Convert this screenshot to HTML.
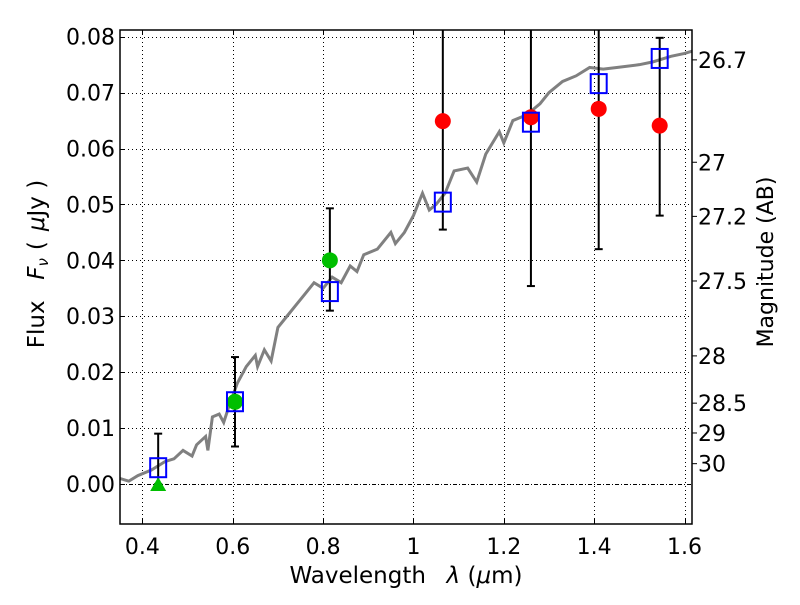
<!DOCTYPE html>
<html><head><meta charset="utf-8"><style>
body{margin:0;background:#fff}
svg text{font-family:"DejaVu Sans","Liberation Sans",sans-serif;fill:#000}
</style></head><body>
<svg id="chart" width="800" height="600" viewBox="0 0 800 600" xmlns="http://www.w3.org/2000/svg"></svg>
<script>
const xTicks=[0.4,0.6,0.8,1.0,1.2,1.4,1.6];
const xTickLabels=["0.4","0.6","0.8","1","1.2","1.4","1.6"];
const yTicks=[0,0.01,0.02,0.03,0.04,0.05,0.06,0.07,0.08];
const yTickLabels=["0.00","0.01","0.02","0.03","0.04","0.05","0.06","0.07","0.08"];
const magTicks=[26.7,27,27.2,27.5,28,28.5,29,30];
const magLabels=["26.7","27","27.2","27.5","28","28.5","29","30"];
const specX=[0.35,0.37,0.39,0.42,0.45,0.47,0.49,0.51,0.52,0.54,0.545,0.555,0.57,0.58,0.59,0.61,0.63,0.65,0.655,0.67,0.685,0.7,0.72,0.74,0.76,0.78,0.8,0.82,0.84,0.86,0.875,0.89,0.92,0.95,0.96,0.98,1.0,1.02,1.035,1.05,1.07,1.09,1.12,1.14,1.16,1.19,1.2,1.22,1.25,1.28,1.3,1.33,1.36,1.39,1.42,1.45,1.5,1.53,1.57,1.6,1.62];
const specY=[0.001,0.0005,0.0015,0.0025,0.004,0.0045,0.006,0.005,0.007,0.0085,0.006,0.012,0.0125,0.011,0.0135,0.018,0.021,0.023,0.021,0.024,0.022,0.028,0.030,0.032,0.034,0.036,0.035,0.037,0.036,0.039,0.038,0.041,0.042,0.045,0.043,0.045,0.048,0.052,0.049,0.050,0.052,0.056,0.0565,0.054,0.059,0.063,0.061,0.065,0.066,0.068,0.070,0.072,0.073,0.0745,0.0742,0.0745,0.075,0.0755,0.0765,0.077,0.0775];
const sqX=[0.435,0.605,0.815,1.065,1.26,1.41,1.545];
const sqY=[0.003,0.0148,0.0345,0.0505,0.0648,0.0717,0.0762];
const errLo=[0.0,0.0067,0.031,0.0455,0.0354,0.042,0.048];
const errHi=[0.009,0.0227,0.0493,0.1,0.1,0.1,0.0798];
const greenX=[0.605,0.815];
const greenY=[0.0147,0.040];
const triX=[0.435];
const triY=[0.0];
const redX=[1.065,1.26,1.41,1.545];
const redY=[0.0649,0.0656,0.0671,0.0641];

const L=120,R=692,T=30,B=524,xmin=0.3505,xmax=1.6165,ymin=-0.00716,ymax=0.0812;
const sx=v=>L+(v-xmin)/(xmax-xmin)*(R-L);
const sy=v=>B-(v-ymin)/(ymax-ymin)*(B-T);
const svg=document.getElementById('chart');
const NS='http://www.w3.org/2000/svg';
function mk(tag,attrs,parent){const e=document.createElementNS(NS,tag);for(const k in attrs)e.setAttribute(k,attrs[k]);(parent||svg).appendChild(e);return e;}
const defs=mk('clipPath',{id:'clip'});mk('rect',{x:L,y:T,width:R-L,height:B-T},defs);
const grid=mk('g',{});


xTicks.forEach((v,i)=>{
  const X=Math.round(sx(v))+0.5;
  mk('line',{x1:X,x2:X,y1:T,y2:B,stroke:'#000','stroke-width':1,'stroke-dasharray':'1,3'},grid);
  mk('line',{x1:X,x2:X,y1:B,y2:B-5,stroke:'#000'},grid);
  mk('line',{x1:X,x2:X,y1:T,y2:T+5,stroke:'#000'},grid);
  const t=mk('text',{x:sx(v),y:B+30,'text-anchor':'middle','font-size':22});
  t.textContent=xTickLabels[i];
  
  
});
yTicks.forEach((v,i)=>{
  const Y=Math.round(sy(v))+0.5;
  mk('line',{x1:L,x2:R,y1:Y,y2:Y,stroke:'#000','stroke-width':1,'stroke-dasharray':v===0?'4,2,1,2':'1,3'},grid);
  mk('line',{x1:L,x2:L+5,y1:Y,y2:Y,stroke:'#000'},grid);
  const t=mk('text',{x:L-5,y:sy(v)+8,'text-anchor':'end','font-size':22});
  t.textContent=yTickLabels[i];
  
  
});
magTicks.forEach((m,i)=>{
  const y=sy(Math.pow(10,(23.9-m)/2.5));
  mk('line',{x1:R,x2:R+5,y1:y,y2:y,stroke:'#000'});
  const t=mk('text',{x:R+6,y:y+8,'font-size':22});
  t.textContent=magLabels[i];
  
  
});
const plot=mk('g',{'clip-path':'url(#clip)'});


const sp=mk('polyline',{points:specX.map((x,i)=>sx(x)+','+sy(specY[i])).join(' '),fill:'none',stroke:'#808080','stroke-width':3},plot);


sqX.forEach((x,i)=>{
  const g=mk('g',{},plot);
  
  
  const X=sx(x),y1=sy(errLo[i]),y2=sy(errHi[i]);
  mk('line',{x1:X,x2:X,y1:y1,y2:y2,stroke:'#000','stroke-width':2},g);
  mk('line',{x1:X-4,x2:X+4,y1:y1,y2:y1,stroke:'#000','stroke-width':2},g);
  mk('line',{x1:X-4,x2:X+4,y1:y2,y2:y2,stroke:'#000','stroke-width':2},g);
});
redX.forEach((x,i)=>{
  const c=mk('circle',{cx:sx(x),cy:sy(redY[i]),r:8,fill:'#f00'},plot);
  
  
});
greenX.forEach((x,i)=>{
  const c=mk('circle',{cx:sx(x),cy:sy(greenY[i]),r:8,fill:'#00bf00'},plot);
  
  
});
triX.forEach((x,i)=>{
  const X=sx(x),Y=sy(triY[i]);
  const p=mk('polygon',{points:`${X},${Y-7} ${X-8},${Y+7} ${X+8},${Y+7}`,fill:'#00bf00'},plot);
  
  
});
sqX.forEach((x,i)=>{
  const r=mk('rect',{x:sx(x)-8,y:sy(sqY[i])-9,width:16,height:19,fill:'none',stroke:'#0000ff','stroke-width':2},plot);
  
  
});
const fr=mk('rect',{x:L,y:T,width:R-L,height:B-T,fill:'none',stroke:'#000','stroke-width':1.5});


</script>
<svg style="position:absolute;left:0;top:0" width="800" height="600">
<text x="406" y="583" text-anchor="middle" font-size="23" font-family="DejaVu Sans, Liberation Sans, sans-serif" xml:space="preserve">Wavelength  <tspan dx="6" font-style="italic">λ</tspan> (<tspan font-style="italic">μ</tspan>m)</text>
<text transform="translate(44,264) rotate(-90)" text-anchor="middle" font-size="23" font-family="DejaVu Sans, Liberation Sans, sans-serif" xml:space="preserve">Flux  <tspan dx="6" font-style="italic">F</tspan><tspan font-style="italic" font-size="15" dy="4">ν</tspan><tspan dy="-4" dx="8">(</tspan><tspan dx="10" font-style="italic">μ</tspan>Jy )</text>
<text transform="translate(773,262) rotate(-90)" text-anchor="middle" font-size="22" font-family="DejaVu Sans, Liberation Sans, sans-serif">Magnitude (AB)</text>
</svg>
</body></html>
